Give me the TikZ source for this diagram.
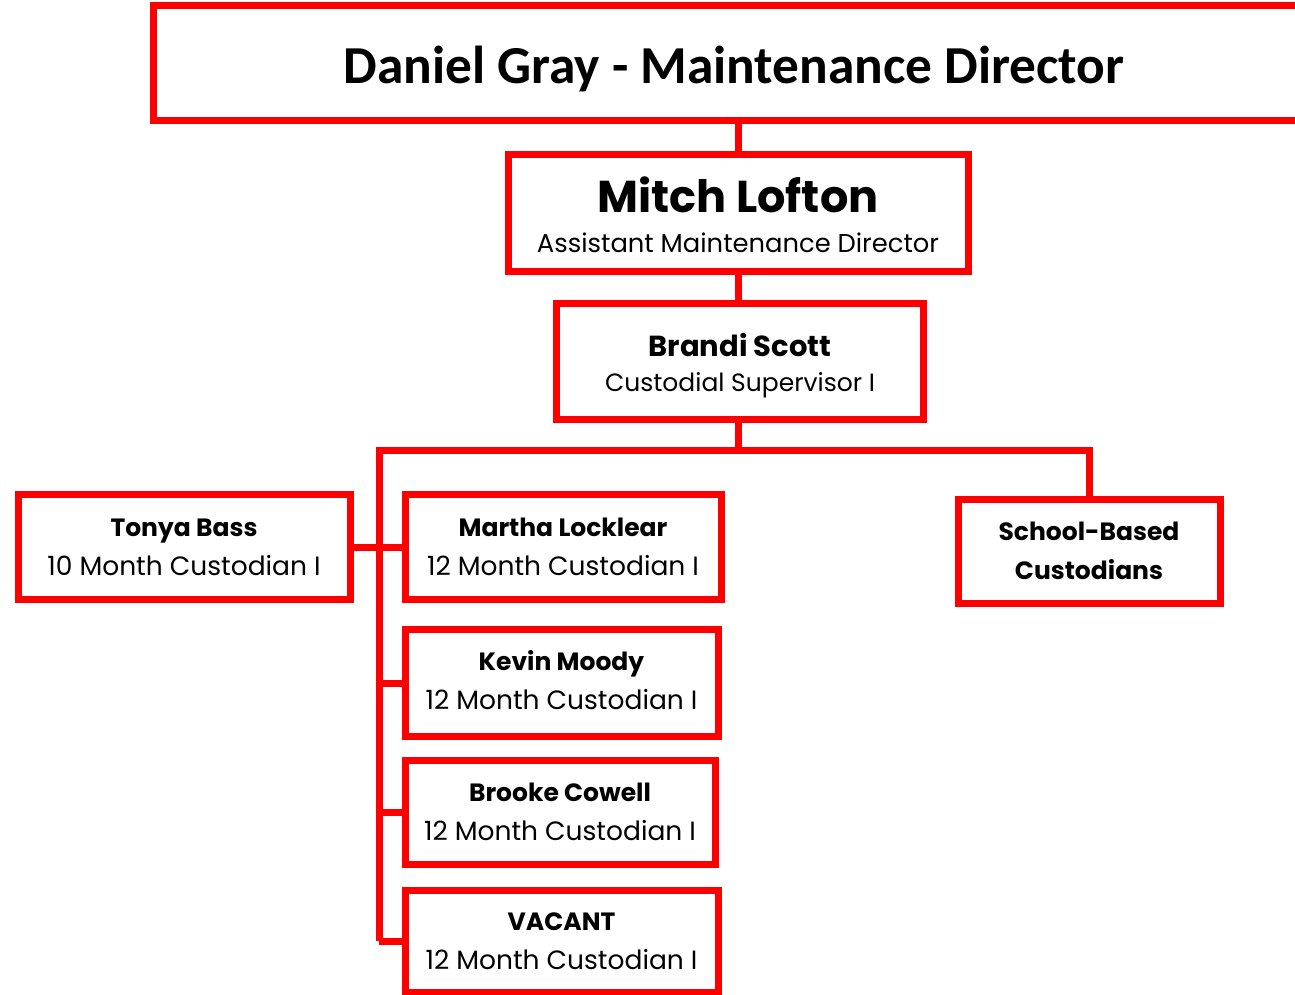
\documentclass[tikz,border=0pt]{standalone}
\usepackage{fontspec}
\setmainfont{Poppins}
\newfontfamily\headfont{Carlito}
\definecolor{boxred}{RGB}{255,0,0}
\tikzset{
  box/.style={draw=boxred, line width=7pt, fill=white, align=center, inner sep=0pt,
    font=\fontsize{26.5}{39}\selectfont},
  link/.style={draw=boxred, line width=7pt},
}
\newcommand{\who}[2]{{\bfseries\fontsize{25}{39}\selectfont #1}\\#2}
\begin{document}
\begin{tikzpicture}[x=1pt,y=-1pt]
      \useasboundingbox (0,0) rectangle (1295,995);
      \clip (0,0) rectangle (1295,995);
      \node[box, minimum width=1162pt, minimum height=115pt] (dir) at (734,63)
        {\headfont\bfseries\fontsize{53.4}{56}\selectfont\rule{0pt}{49pt}Daniel Gray - Maintenance Director};
      \node[box, minimum width=460pt, minimum height=117pt, font=\fontsize{25.8}{40}\selectfont] (asst) at (738,213)
        {{\bfseries\fontsize{44.6}{40}\selectfont\rule{0pt}{40pt}Mitch Lofton}\\Assistant Maintenance Director};
      \node[box, minimum width=367pt, minimum height=116pt, font=\fontsize{25}{35}\selectfont] (sup) at (740,361)
        {{\bfseries\fontsize{29}{35}\selectfont\rule{0pt}{33pt}Brandi Scott}\\Custodial Supervisor I};
      \node[box, minimum width=332pt, minimum height=105pt] (tonya) at (184,547)
        {\who{Tonya Bass}{10 Month Custodian I}};
      \node[box, minimum width=316pt, minimum height=105pt] (martha) at (563,547)
        {\who{Martha Locklear}{12 Month Custodian I}};
      \node[box, minimum width=313pt, minimum height=107pt] (kevin) at (561.5,683)
        {\who{Kevin Moody}{12 Month Custodian I}\rule[-7pt]{0pt}{7pt}};
      \node[box, minimum width=310pt, minimum height=104pt] (brooke) at (560,812)
        {\who{Brooke Cowell}{12 Month Custodian I}};
      \node[box, minimum width=313pt, minimum height=102pt] (vacant) at (561.5,941)
        {\who{VACANT}{12 Month Custodian I}};
      \node[box, minimum width=262pt, minimum height=104pt, font=\bfseries\fontsize{25}{39}\selectfont] (school) at (1089,551)
        {School-Based\\Custodians};
      \coordinate (lbus) at (379,450);
      \coordinate (rbus) at (1089,450);
      \begin{scope}[link]
        \draw (dir.south -| asst.north) to (asst.north);
        \draw (asst.south) to (asst.south |- sup.north);
        \draw (asst.south |- sup.south) |- (lbus) -- (lbus |- vacant.west);
        \draw (asst.south |- sup.south) |- (rbus) -- (school.north);
        \draw (tonya.east) to (martha.west);
        \draw (kevin.west) to (kevin.west -| lbus);
        \draw (brooke.west) to (brooke.west -| lbus);
        \draw (vacant.west) to (vacant.west -| lbus);
      \end{scope}
    \end{tikzpicture}
\end{document}
